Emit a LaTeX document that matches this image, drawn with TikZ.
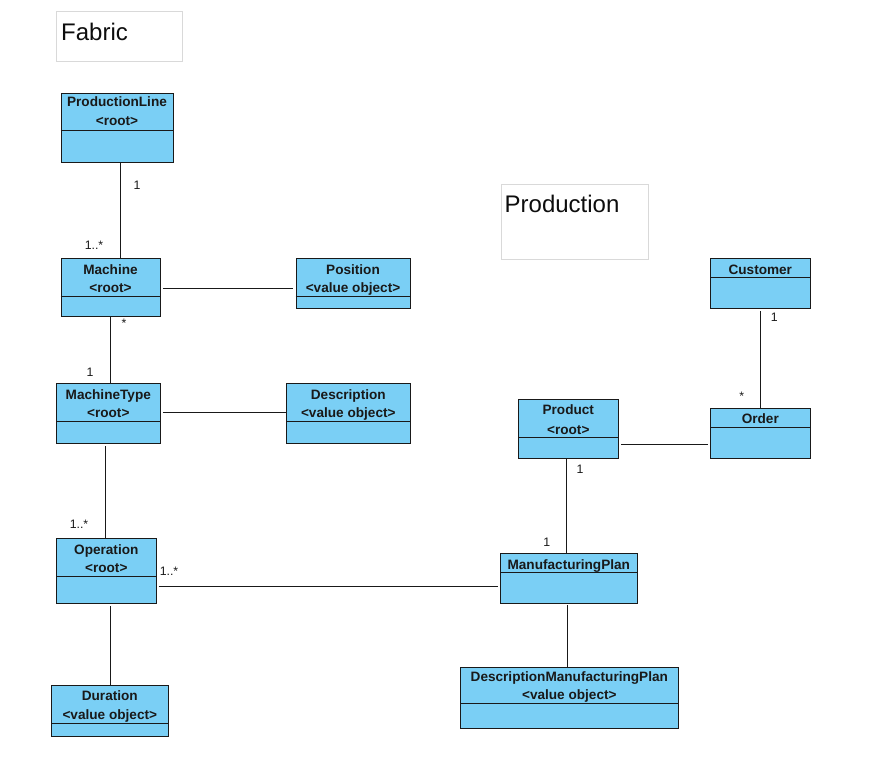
\documentclass[tikz,border=0pt]{standalone}
\usepackage{fontspec}
\setmainfont{Liberation Sans}
\begin{document}
\begin{tikzpicture}[x=1pt,y=-1pt,
  cls/.style={draw=black!90, line width=1pt, fill=clsfill, anchor=north west, inner sep=0pt},
  frame/.style={draw=black!15, line width=0.8pt, anchor=north west, inner sep=0pt},
  nm/.style={font=\fontsize{13.6}{15}\selectfont\bfseries, text height=9.8pt, text depth=0pt, inner sep=0pt, text=black!90},
  mult/.style={font=\fontsize{12.3}{14}\selectfont, text height=8.8pt, text depth=0pt, inner sep=0pt, text=black!90},
  ttl/.style={font=\fontsize{24}{26}\selectfont, anchor=base west, inner sep=0pt, text=black!95},
  conn/.style={line width=1.1pt, draw=black!90},
  div/.style={line width=1pt, draw=black!90}]
\definecolor{clsfill}{RGB}{122,207,245}
\useasboundingbox (0,0) rectangle (871,758);

% package frames
\node[frame, minimum width=126pt, minimum height=50pt] (fabric) at (56,11) {};
\node[ttl] (fabricT) at (61,40.5) {Fabric};
\node[frame, minimum width=147pt, minimum height=75pt] (production) at (500.5,183.5) {};
\node[ttl] (productionT) at (504.5,212.5) {Production};

% classes
\node[cls, minimum width=112.3pt, minimum height=69pt] (pl) at (60.7,92.7) {};
\draw[div] (60.7,130) -- (173,130);
\node[nm] (plA) at (117,102) {ProductionLine};
\node[nm] (plB) at (117,120.5) {<root>};

\node[cls, minimum width=99.6pt, minimum height=58pt] (ma) at (60.7,258) {};
\draw[div] (60.7,296) -- (160.3,296);
\node[nm] (maA) at (110.5,269.3) {Machine};
\node[nm] (maB) at (110.5,287.3) {<root>};

\node[cls, minimum width=114.3pt, minimum height=50pt] (po) at (295.7,258) {};
\draw[div] (295.7,296) -- (410,296);
\node[nm] (poA) at (353,269.3) {Position};
\node[nm] (poB) at (353,287.3) {<value object>};

\node[cls, minimum width=104pt, minimum height=60pt] (mt) at (56.3,383.3) {};
\draw[div] (56.3,421.3) -- (160.3,421.3);
\node[nm] (mtA) at (108.3,394.3) {MachineType};
\node[nm] (mtB) at (108.3,412.3) {<root>};

\node[cls, minimum width=124pt, minimum height=60pt] (de) at (286.3,383.3) {};
\draw[div] (286.3,421.3) -- (410.3,421.3);
\node[nm] (deA) at (348.3,394.3) {Description};
\node[nm] (deB) at (348.3,412.3) {<value object>};

\node[cls, minimum width=100pt, minimum height=65pt] (op) at (56.3,538.3) {};
\draw[div] (56.3,576.7) -- (156.3,576.7);
\node[nm] (opA) at (106.3,549.3) {Operation};
\node[nm] (opB) at (106.3,567.3) {<root>};

\node[cls, minimum width=117pt, minimum height=51pt] (du) at (51.3,685) {};
\draw[div] (51.3,723.3) -- (168.3,723.3);
\node[nm] (duA) at (109.8,696) {Duration};
\node[nm] (duB) at (109.8,715) {<value object>};

\node[cls, minimum width=100pt, minimum height=49.7pt] (cu) at (710.3,258.3) {};
\draw[div] (710.3,277.3) -- (810.3,277.3);
\node[nm] (cuA) at (760.3,269.3) {Customer};

\node[cls, minimum width=100pt, minimum height=49.7pt] (or) at (710.3,408.3) {};
\draw[div] (710.3,427.3) -- (810.3,427.3);
\node[nm] (orA) at (760.3,419) {Order};

\node[cls, minimum width=100pt, minimum height=58.7pt] (pr) at (518.3,399.3) {};
\draw[div] (518.3,437.3) -- (618.3,437.3);
\node[nm] (prA) at (568.3,410) {Product};
\node[nm] (prB) at (568.3,429.3) {<root>};

\node[cls, minimum width=137pt, minimum height=50pt] (mp) at (500.3,553.3) {};
\draw[div] (500.3,572.7) -- (637.3,572.7);
\node[nm] (mpA) at (568.8,564.3) {ManufacturingPlan};

\node[cls, minimum width=218pt, minimum height=61.6pt] (dmp) at (460.3,666.7) {};
\draw[div] (460.3,703.3) -- (678.3,703.3);
\node[nm] (dmpA) at (569.3,676.7) {DescriptionManufacturingPlan};
\node[nm] (dmpB) at (569.3,695) {<value object>};

% connectors
\draw[conn] (pl.south -| 120.7,0) -- (ma.north -| 120.7,0);
\draw[conn] ([xshift=1.5pt]ma.east |- 0,288.3) -- ([xshift=-2.5pt]po.west |- 0,288.3);
\draw[conn] (ma.south -| 110.3,0) -- (mt.north -| 110.3,0);
\draw[conn] ([xshift=1.5pt]mt.east |- 0,412.3) -- (de.west |- 0,412.3);
\draw[conn] ([yshift=-2pt]mt.south -| 105.3,0) -- (op.north -| 105.3,0);
\draw[conn] ([xshift=1.5pt]op.east |- 0,586.7) -- ([xshift=-2.5pt]mp.west |- 0,586.7);
\draw[conn] ([yshift=-2pt]op.south -| 110.3,0) -- (du.north -| 110.3,0);
\draw[conn] ([yshift=-2pt]cu.south -| 760.3,0) -- (or.north -| 760.3,0);
\draw[conn] ([xshift=2pt]pr.east |- 0,444.7) -- ([xshift=-2pt]or.west |- 0,444.7);
\draw[conn] (pr.south -| 566.3,0) -- (mp.north -| 566.3,0);
\draw[conn] ([yshift=-1pt]mp.south -| 567.3,0) -- (dmp.north -| 567.3,0);

% multiplicities
\node[mult] (m1) at (137,185) {1};
\node[mult] (m2) at (94,245.5) {1..*};
\node[mult] (m3) at (124,323) {*};
\node[mult] (m4) at (90,372) {1};
\node[mult] (m5) at (79,524.5) {1..*};
\node[mult] (m6) at (169,571) {1..*};
\node[mult] (m7) at (774.3,317) {1};
\node[mult] (m8) at (741.7,396) {*};
\node[mult] (m9) at (580,469.5) {1};
\node[mult] (m10) at (546.7,542) {1};
\end{tikzpicture}
\end{document}
